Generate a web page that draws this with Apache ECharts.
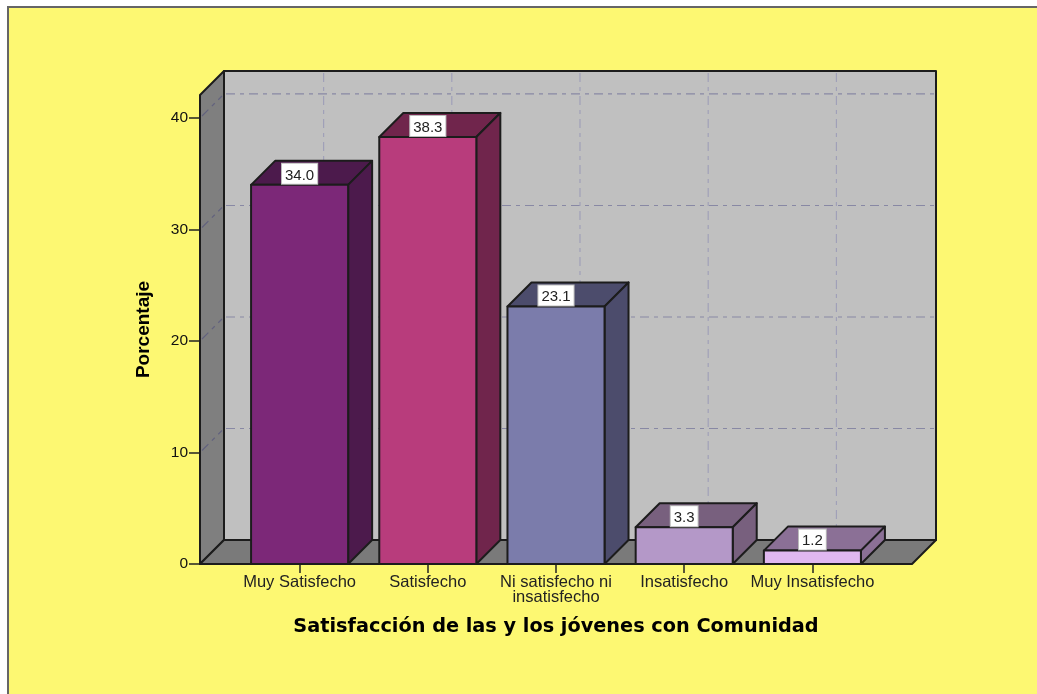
<!DOCTYPE html>
<html>
<head>
<meta charset="utf-8">
<style>html,body{margin:0;padding:0;background:#fff}#c{width:1037px;height:694px}</style>
<script src="https://cdn.jsdelivr.net/npm/echarts@6/dist/echarts.min.js"></script>
</head>
<body>
<div id="c"></div>
<script>
const categories = ['Muy Satisfecho','Satisfecho','Ni satisfecho ni\ninsatisfecho','Insatisfecho','Muy Insatisfecho'];
const values = [34.0,38.3,23.1,3.3,1.2];
const faceColors = ['#7c2878','#b83c7c','#7b7cab','#b498c8','#e0b8f0'];
const sideColors = ['#4c1a4c','#70254c','#4c4c6c','#78607e','#8b7096'];
const yTicks = [0,10,20,30,40];
const gridValues = [10,20,30,40];
const axisMax = 42.06;
const depth = 24, pad = 35.5, barShare = 0.757;
const edge = {stroke:'#1c1c1c', lineWidth:2, lineJoin:'round'};
const gridStyle = {lineWidth:1.2, lineDash:[9,5,4,5]};

function poly(points, fill){
  return {type:'polygon', shape:{points}, style:Object.assign({fill}, edge)};
}
function dashed(x1,y1,x2,y2,stroke){
  return {type:'line', shape:{x1,y1,x2,y2}, style:Object.assign({stroke, fill:null}, gridStyle)};
}
function renderWalls(params, api){
  const band = api.size([1,0])[0];
  const L = api.coord([0,0])[0]-band/2-pad;
  const R = api.coord([categories.length-1,0])[0]+band/2+pad;
  const B = api.coord([0,0])[1];
  const T = api.coord([0,axisMax])[1];
  const children = [
    poly([[L+depth,T-depth],[R+depth,T-depth],[R+depth,B-depth],[L+depth,B-depth]],'#c0c0c0'),
    poly([[L,T],[L+depth,T-depth],[L+depth,B-depth],[L,B]],'#7f7f7f'),
    poly([[L,B],[L+depth,B-depth],[R+depth,B-depth],[R,B]],'#7a7a7a')
  ];
  gridValues.forEach(v=>{
    const y = api.coord([0,v])[1];
    children.push(dashed(L+depth+2,y-depth,R+depth-2,y-depth,'#8888a4'));
    children.push(dashed(L+2,y-2,L+depth-2,y-depth+2,'#62627e'));
  });
  categories.forEach((c,i)=>{
    const x = api.coord([i,0])[0]+depth;
    children.push(dashed(x,T-depth+2,x,B-depth-2,'#a0a0b8'));
  });
  return {type:'group', children};
}
function renderBar(params, api){
  const i = api.value(0), v = api.value(1);
  const p = api.coord([i,v]), b = api.coord([i,0]);
  const w = api.size([1,0])[0]*barShare;
  const l = p[0]-w/2, r = p[0]+w/2, t = p[1], y0 = b[1];
  return {type:'group', children:[
    poly([[l,t],[l+depth,t-depth],[r+depth,t-depth],[r,t]],sideColors[i]),
    poly([[r,t],[r+depth,t-depth],[r+depth,y0-depth],[r,y0]],sideColors[i]),
    poly([[l,t],[r,t],[r,y0],[l,y0]],faceColors[i]),
    {type:'text', x:p[0], y:t-1, style:{
      text:v.toFixed(1), x:0, y:0, align:'center', verticalAlign:'bottom',
      font:'15px "Liberation Sans"', fill:'#222', backgroundColor:'#fff',
      borderColor:'#bbb', borderWidth:1, padding:[4,3,1,3]
    }}
  ]};
}
const chart = echarts.init(document.getElementById('c'), null, {renderer:'canvas', width:1037, height:694});
chart.setOption({
  animation:false,
  backgroundColor:'#ffffff',
  graphic:{elements:[{type:'rect', z:-10, silent:true, shape:{x:8,y:7,width:1100,height:800},
    style:{fill:'#fdf872', stroke:'#666666', lineWidth:2}}]},
  grid:{left:235.5, right:160.5, top:95, bottom:130},
  xAxis:{
    type:'category', data:categories,
    name:'Satisfacción de las y los jóvenes con Comunidad', nameLocation:'middle', nameGap:53,
    nameTextStyle:{fontFamily:'DejaVu Sans', fontWeight:'bold', fontSize:19.3, color:'#000'},
    axisLine:{show:false},
    axisTick:{show:true, alignWithLabel:true, length:9, lineStyle:{color:'#222', width:1.5}},
    axisLabel:{fontFamily:'Liberation Sans', fontSize:16.5, color:'#222', margin:11, lineHeight:15, interval:0}
  },
  yAxis:{
    type:'value', min:0, max:axisMax, offset:35.5,
    name:'Porcentaje', nameLocation:'middle', nameGap:47, nameRotate:90,
    nameTextStyle:{fontFamily:'Liberation Sans', fontWeight:'bold', fontSize:19, color:'#000'},
    axisLine:{show:false},
    axisTick:{show:true, length:11, customValues:yTicks, lineStyle:{color:'#222', width:1.5}},
    axisLabel:{fontFamily:'Liberation Sans', fontSize:15.5, color:'#111', margin:12, padding:[4,0,0,0], customValues:yTicks},
    splitLine:{show:false}
  },
  series:[
    {type:'custom', name:'walls', z:1, clip:false, silent:true, data:[[0,0]], renderItem:renderWalls, encode:{x:0,y:1}},
    {type:'custom', name:'Porcentaje', z:2, clip:false, silent:true, data:values.map((v,i)=>[i,v]), renderItem:renderBar, encode:{x:0,y:1}}
  ]
});
</script>
</body>
</html>
